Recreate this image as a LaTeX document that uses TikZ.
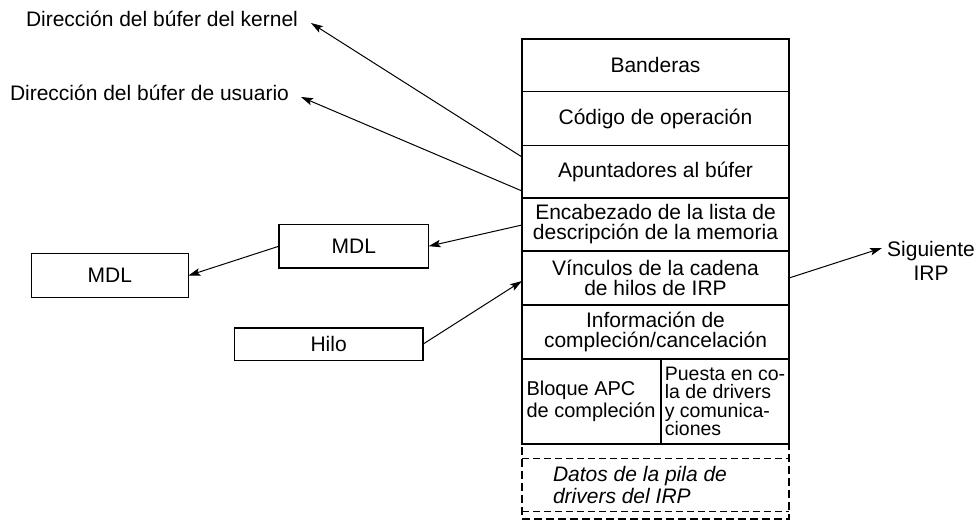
\documentclass[tikz,border=0pt]{standalone}
\usepackage{fontspec}
\setmainfont{Liberation Sans}
\usetikzlibrary{arrows.meta}
\begin{document}
\begin{tikzpicture}[x=1pt,y=-1pt,
  every node/.style={font=\fontsize{21}{20}\selectfont, inner sep=0pt, outer sep=0pt},
  cell/.style={draw, line width=1.2pt, minimum width=267pt, align=center},
  sbox/.style={draw, line width=1.2pt, align=center},
  arr/.style={line width=1pt, -{Stealth[length=12pt,width=7.5pt,inset=2.5pt]}},
  thickdash/.style={line width=2.4pt, dash pattern=on 8pt off 4pt},
  thindash/.style={line width=1pt, dash pattern=on 7pt off 4pt}
  ]
\useasboundingbox (0,0) rectangle (978,520);
% main column
\node[cell, minimum height=52.7pt] (r1) at (655.5,65.35) {Banderas};
\node[cell, minimum height=54pt] (r2) at (655.5,118.7) {Código de operación};
\node[cell, minimum height=52.3pt] (r3) at (655.5,171.85) {Apuntadores al búfer};
\node[cell, minimum height=53pt] (r4) at (655.5,224.5) {Encabezado de la lista de\\descripción de la memoria};
\node[cell, minimum height=54pt] (r5) at (655.5,278) {Vínculos de la cadena\\de hilos de IRP};
\node[cell, minimum height=54pt] (r6) at (655.5,332) {Información de\\compleción/cancelación};
\node[sbox, minimum width=139pt, minimum height=85pt, font=\fontsize{20}{21.5}\selectfont, align=left] (r7a) at (591.5,401.5) {\raisebox{-3pt}{\parbox{130pt}{Bloque APC\\de compleción}}};
\node[sbox, minimum width=128pt, minimum height=85pt, font=\fontsize{19.5}{18.5}\selectfont, align=left] (r7b) at (725,401.5) {Puesta en co-\\la de drivers\\y comunica-\\ciones};
% dashed stack data
\node[thickdash, draw, minimum width=267pt, minimum height=75pt] (r8) at (655.5,481.5) {};
\draw[thindash] (522,458.3) -- (789,458.3);
\draw[thindash] (522,511) -- (789,511);
\node[anchor=west, align=left, font=\itshape\fontsize{21}{21.5}\selectfont] (datos) at (553,485) {Datos de la pila de\\drivers del IRP};
% left boxes
\node[sbox, minimum width=149.7pt, minimum height=43.6pt] (mdl1) at (353.8,246.2) {MDL};
\node[sbox, minimum width=156.9pt, minimum height=43.6pt] (mdl2) at (109.85,275.6) {MDL};
\node[sbox, minimum width=188.7pt, minimum height=32.3pt] (hilo) at (328.65,344.15) {Hilo};
% labels
\node[anchor=west] (kern) at (26,19) {Dirección del búfer del kernel};
\node[anchor=west] (usr) at (10,93) {Dirección del búfer de usuario};
\node[align=center, font=\fontsize{21}{24}\selectfont] (sig) at (931,261) {Siguiente\\IRP};
\coordinate (kt) at (311,23);
\coordinate (ut) at (301,97);
\coordinate (st) at (882,248);
% arrows
\draw[arr] ([yshift=14.85pt]r3.west) -- (kt);
\draw[arr] ([yshift=-19.15pt]r3.west) -- (ut);
\draw[arr] ([yshift=-0.5pt]r4.west) -- (mdl1.east);
\draw[arr] (mdl1.west) -- (mdl2.east);
\draw[arr] (hilo.east) -- ([yshift=-3pt]r5.west);
\draw[arr] (r5.east) -- (st);
\end{tikzpicture}
\end{document}
